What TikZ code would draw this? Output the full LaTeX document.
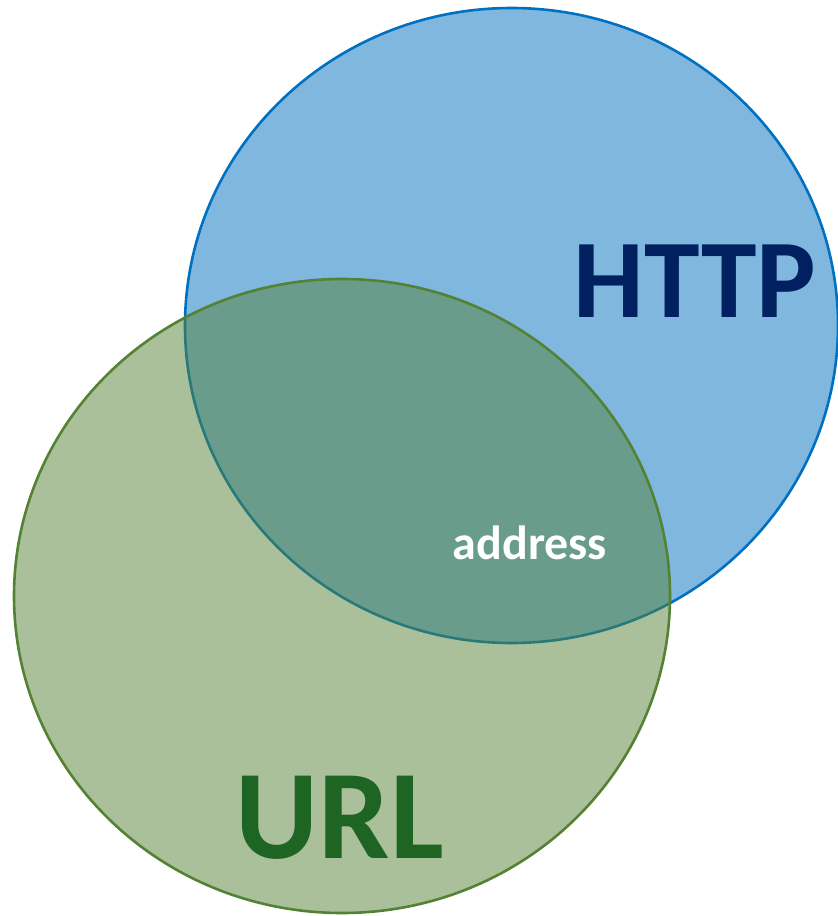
\documentclass[tikz,border=0pt]{standalone}
\usepackage{fontspec}
\setmainfont{Carlito}
\definecolor{httpblue}{HTML}{0070C0}
\definecolor{urlgreen}{HTML}{548235}
\definecolor{httptext}{HTML}{002060}
\definecolor{urltext}{HTML}{1E6423}
\begin{document}
\begin{tikzpicture}[x=1pt,y=-1pt,
  setshape/.style={line width=2.6pt},
  biglabel/.style={inner sep=0pt,font=\bfseries}]
\useasboundingbox (0,0) rectangle (838,916);
% HTTP set
\fill[httpblue,fill opacity=0.5] (511.5,325.5) ellipse [x radius=326.5, y radius=317.5];
\draw[httpblue,setshape] (511.5,325.5) ellipse [x radius=326.5, y radius=317.5];
% URL set, half transparent over HTTP
\fill[urlgreen,fill opacity=0.5] (342,596) ellipse [x radius=328, y radius=317];
\draw[urlgreen,setshape] (342,596) ellipse [x radius=328, y radius=317];
% labels
\node[biglabel,text=httptext,font=\fontsize{112}{112}\selectfont\bfseries] (http) at (695,281) {HTTP};
\node[biglabel,text=urltext,font=\fontsize{127}{127}\selectfont\bfseries] (url) at (340,818) {URL};
\node[biglabel,text=white,font=\fontsize{48}{48}\selectfont\bfseries] (addr) at (530,543) {address};
\end{tikzpicture}
\end{document}
